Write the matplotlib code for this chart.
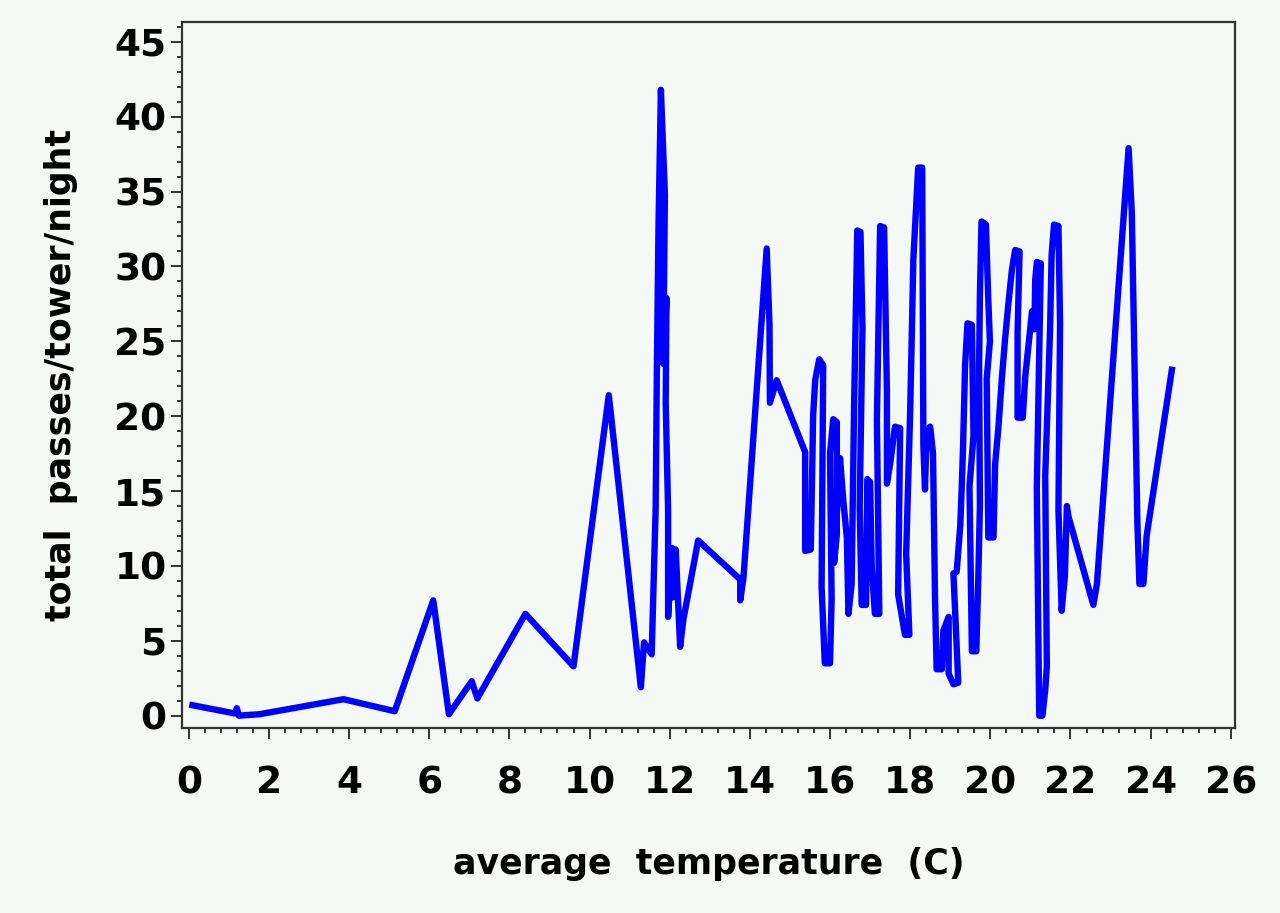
import matplotlib
matplotlib.use("Agg")
import matplotlib.pyplot as plt
from matplotlib.ticker import MultipleLocator

# average temperature (C) and total passes per tower per night, in plotting order
temp = [0.09, 1.15, 1.2, 1.25, 1.77, 3.86, 5.14, 6.1, 6.49, 7.06, 7.2,
        8.4, 9.6, 10.48, 11.28, 11.36, 11.55, 11.65, 11.68, 11.72, 11.78,
        11.88, 11.84, 11.92, 11.9, 11.96, 11.96, 12.06, 12.08, 12.15, 12.26,
        12.34, 12.71, 13.76, 13.76, 13.84, 14.42, 14.49, 14.5, 14.67, 15.38,
        15.38, 15.52, 15.58, 15.63, 15.73, 15.83, 15.79, 15.87, 16.0, 16.04,
        16.0, 16.08, 16.17, 16.17, 16.1, 16.25, 16.33, 16.42, 16.46, 16.54,
        16.6, 16.68, 16.76, 16.81, 16.74, 16.79, 16.9, 16.93, 17.0, 17.04,
        17.12, 17.23, 17.17, 17.25, 17.35, 17.42, 17.42, 17.5, 17.62, 17.75,
        17.7, 17.87, 17.98, 17.9, 18.0, 18.08, 18.2, 18.3, 18.33, 18.37,
        18.41, 18.5, 18.57, 18.62, 18.66, 18.79, 18.83, 18.96, 18.96, 19.08,
        19.2, 19.08, 19.16, 19.25, 19.29, 19.32, 19.37, 19.43, 19.54, 19.58,
        19.48, 19.54, 19.65, 19.7, 19.74, 19.72, 19.74, 19.78, 19.89, 19.95,
        19.99, 19.91, 19.95, 20.08, 20.12, 20.2, 20.29, 20.37, 20.45, 20.54,
        20.62, 20.73, 20.68, 20.68, 20.81, 20.87, 20.95, 21.04, 21.1, 21.12,
        21.16, 21.26, 21.16, 21.22, 21.3, 21.37, 21.41, 21.37, 21.41, 21.45,
        21.49, 21.53, 21.59, 21.7, 21.74, 21.7, 21.78, 21.86, 21.91, 21.95,
        22.57, 22.66, 23.45, 23.53, 23.67, 23.72, 23.82, 23.9, 24.53]
passes = [0.7, 0.15, 0.5, 0.0, 0.1, 1.1, 0.3, 7.7, 0.1, 2.3, 1.15,
          6.8, 3.3, 21.4, 1.9, 4.9, 4.1, 13.9, 23.2, 32.6, 41.8,
          34.8, 23.5, 27.9, 20.9, 13.7, 6.6, 11.2, 7.9, 11.1, 4.6,
          6.4, 11.7, 9.1, 7.7, 9.2, 31.2, 26.1, 20.9, 22.4, 17.6,
          11.0, 11.1, 20.1, 22.4, 23.8, 23.4, 8.6, 3.5, 3.5, 7.8,
          17.5, 19.8, 19.6, 12.1, 10.2, 17.2, 14.4, 11.9, 6.8, 8.8,
          20.6, 32.4, 32.3, 25.9, 13.9, 7.4, 7.4, 15.8, 15.6, 10.0,
          6.8, 6.8, 19.8, 32.7, 32.6, 21.6, 15.5, 16.8, 19.3, 19.2,
          8.1, 5.4, 5.4, 10.8, 20.3, 30.5, 36.6, 36.6, 18.0, 15.1,
          19.0, 19.3, 17.5, 7.9, 3.1, 3.1, 5.7, 6.6, 2.8, 2.1,
          2.2, 9.5, 9.6, 12.7, 15.5, 18.0, 23.4, 26.2, 26.1, 18.7,
          15.3, 4.3, 4.3, 9.2, 14.0, 23.4, 28.1, 33.0, 32.8, 27.7,
          25.0, 22.5, 11.9, 11.9, 16.8, 19.2, 22.6, 25.2, 27.5, 29.8,
          31.1, 31.0, 25.6, 19.9, 19.9, 22.6, 24.7, 27.0, 25.8, 29.1,
          30.3, 30.2, 15.2, 0.0, 0.0, 1.7, 3.3, 16.0, 19.2, 22.4,
          25.7, 30.8, 32.8, 32.7, 26.2, 13.7, 7.0, 9.3, 14.0, 13.3,
          7.4, 8.8, 37.9, 33.6, 12.8, 8.8, 8.8, 12.0, 23.1]

bg = "#f5f9f6"
fig = plt.figure(figsize=(12.8, 9.13), dpi=100, facecolor=bg)
ax = fig.add_axes([0.142, 0.203, 0.823, 0.773], facecolor=bg)

ax.plot(temp, passes, color="#0000ff", linewidth=4.6, solid_joinstyle="round")

ax.set_xlim(-0.175, 26.11)
ax.set_ylim(-0.8, 46.33)
ax.xaxis.set_major_locator(MultipleLocator(2))
ax.xaxis.set_minor_locator(MultipleLocator(0.4))
ax.yaxis.set_major_locator(MultipleLocator(5))
ax.yaxis.set_minor_locator(MultipleLocator(1))

ax.tick_params(which="major", length=8, width=1.4, color="#333333", labelsize=27)
ax.tick_params(which="minor", length=3.6, width=1.4, color="#333333")
ax.tick_params(axis="x", which="major", pad=19)
ax.tick_params(axis="y", which="major", pad=3)
for lab in ax.get_xticklabels() + ax.get_yticklabels():
    lab.set_fontfamily("DejaVu Sans")
    lab.set_fontweight("bold")

for sp in ax.spines.values():
    sp.set_color("#333333")
    sp.set_linewidth(1.6)

ax.set_xlabel("average  temperature  (C)", fontsize=25, labelpad=33,
              family="DejaVu Sans", weight="bold")
ax.set_ylabel("total  passes/tower/night", fontsize=25, labelpad=26,
              family="DejaVu Sans", weight="bold")

fig.savefig("out.png", dpi=100, facecolor=bg)
